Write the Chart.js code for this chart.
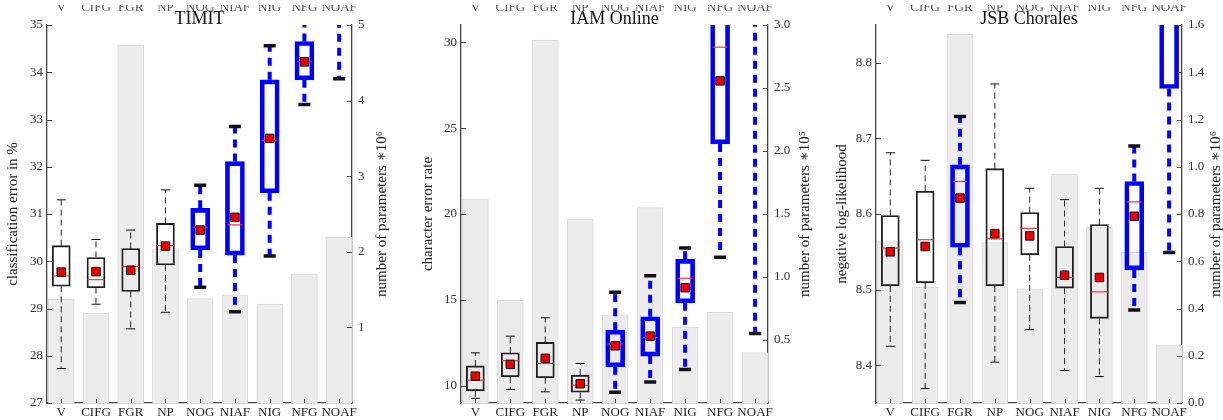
<!DOCTYPE html>
<html>
<head>
<meta charset="utf-8">
<script src="https://cdn.jsdelivr.net/npm/chart.js@4.4.1/dist/chart.umd.min.js"></script>
<style>
  html, body { margin: 0; padding: 0; background: #fff; }
  #wrap { position: relative; width: 1223px; height: 420px; overflow: hidden; }
  canvas { position: absolute; top: 0; }
</style>
</head>
<body>
<div id="wrap">
  <canvas id="timit" width="405" height="420" style="left:0"></canvas>
  <canvas id="iam" width="410" height="420" style="left:405px"></canvas>
  <canvas id="jsb" width="408" height="420" style="left:815px"></canvas>
</div>
<script>
// LSTM variants on the x axis
const categories = ["V", "CIFG", "FGR", "NP", "NOG", "NIAF", "NIG", "NFG", "NOAF"];

// TIMIT: classification error in %, params * 10^6
const timitMin    = [27.73, 29.09, 28.57, 28.92, 29.45, 28.93, 30.11, 33.32, 33.86];
const timitQ1     = [29.47, 29.44, 29.36, 29.92, 30.24, 30.13, 31.45, 33.84, 36.0];
const timitMedian = [29.69, 29.61, 29.89, 30.33, 30.72, 30.77, 32.55, 34.22, 37.0];
const timitMean   = [29.77, 29.78, 29.81, 30.32, 30.66, 30.93, 32.60, 34.22, 37.2];
const timitQ3     = [30.33, 30.08, 30.27, 30.80, 31.12, 32.11, 33.84, 34.65, 38.0];
const timitMax    = [31.30, 30.46, 30.66, 31.51, 31.61, 32.85, 34.56, 35.40, 39.0];
const timitParams = [1.37, 1.19, 4.73, 2.04, 1.38, 1.43, 1.31, 1.71, 2.19];
const timitBlue   = [0, 0, 0, 0, 1, 1, 1, 1, 1];
const timitTicks  = [27, 28, 29, 30, 31, 32, 33, 34, 35];
const timitParamTicks = [1, 2, 3, 4, 5];

// IAM Online: character error rate, params * 10^5
const iamMin    = [9.27, 9.79, 9.65, 9.17, 9.63, 10.22, 10.95, 17.48, 13.05];
const iamQ1     = [9.71, 10.52, 10.47, 9.63, 11.11, 11.73, 14.83, 24.08, 33.0];
const iamMedian = [10.33, 11.46, 11.30, 10.04, 12.43, 12.82, 16.26, 29.71, 35.0];
const iamMean   = [10.56, 11.25, 11.60, 10.12, 12.33, 12.89, 15.71, 27.75, 35.0];
const iamQ3     = [11.16, 11.92, 12.53, 10.62, 13.24, 14.02, 17.36, 32.5, 38.0];
const iamMax    = [11.92, 12.89, 13.96, 11.30, 15.44, 16.41, 18.02, 36.0, 42.0];
const iamParams = [1.62, 0.815, 2.88, 1.46, 0.70, 1.55, 0.60, 0.72, 0.40];
const iamBlue   = [0, 0, 0, 0, 1, 1, 1, 1, 1];
const iamTicks  = [10, 15, 20, 25, 30];
const iamParamTicks = [0.5, 1.0, 1.5, 2.0, 2.5, 3.0];

// JSB Chorales: negative log-likelihood, params * 10^6
const jsbMin    = [8.425, 8.369, 8.483, 8.404, 8.447, 8.393, 8.385, 8.473, 8.549];
const jsbQ1     = [8.505, 8.509, 8.556, 8.505, 8.546, 8.502, 8.462, 8.526, 8.766];
const jsbMedian = [8.555, 8.566, 8.643, 8.567, 8.581, 8.516, 8.497, 8.616, 8.95];
const jsbMean   = [8.550, 8.557, 8.621, 8.574, 8.571, 8.519, 8.516, 8.597, 8.95];
const jsbQ3     = [8.598, 8.630, 8.665, 8.660, 8.602, 8.557, 8.586, 8.643, 9.1];
const jsbMax    = [8.681, 8.671, 8.729, 8.772, 8.634, 8.619, 8.634, 8.690, 9.2];
const jsbParams = [0.683, 0.490, 1.561, 0.679, 0.483, 0.969, 0.744, 0.638, 0.246];
const jsbBlue   = [0, 0, 1, 0, 0, 0, 0, 1, 1];
const jsbTicks  = [8.4, 8.5, 8.6, 8.7, 8.8];
const jsbParamTicks = [0, 0.2, 0.4, 0.6, 0.8, 1.0, 1.2, 1.4, 1.6];

const serif = "'Liberation Serif', 'DejaVu Serif', serif";

const panels = {
  timit: {
    title: "TIMIT", yLabel: "classification error in %", rLabel: "number of parameters \u221710\u2076",
    min: timitMin, q1: timitQ1, median: timitMedian, mean: timitMean, q3: timitQ3, max: timitMax,
    params: timitParams, blue: timitBlue, yTicks: timitTicks, rTicks: timitParamTicks,
    yMin: 27, yMax: 35, rMax: 5, fmt: (v) => String(v), rFmt: (v) => String(v),
    left: 47, right: 53, yTitlePad: 4, rTitleX: 382
  },
  iam: {
    title: "IAM Online", yLabel: "character error rate", rLabel: "number of parameters \u221710\u2075",
    min: iamMin, q1: iamQ1, median: iamMedian, mean: iamMean, q3: iamQ3, max: iamMax,
    params: iamParams, blue: iamBlue, yTicks: iamTicks, rTicks: iamParamTicks,
    yMin: 9, yMax: 31, rMax: 3, fmt: (v) => String(v), rFmt: (v) => v.toFixed(1),
    left: 56, right: 47, yTitlePad: 14, rTitleX: 400
  },
  jsb: {
    title: "JSB Chorales", yLabel: "negative log-likelihood", rLabel: "number of parameters \u221710\u2076",
    min: jsbMin, q1: jsbQ1, median: jsbMedian, mean: jsbMean, q3: jsbQ3, max: jsbMax,
    params: jsbParams, blue: jsbBlue, yTicks: jsbTicks, rTicks: jsbParamTicks,
    yMin: 8.35, yMax: 8.85, rMax: 1.6, fmt: (v) => v.toFixed(1), rFmt: (v) => v.toFixed(1),
    left: 61, right: 41, yTitlePad: 18, rTitleX: 401
  }
};

// whiskers, caps, medians, inner ticks and extra texts
const boxDecor = {
  id: "boxDecor",
  afterDatasetDraw(chart, args) {
    if (args.index !== 2) return;
    const p = panels[chart.canvas.id];
    const { ctx, chartArea: a, scales: { x, y } } = chart;
    ctx.save();
    ctx.beginPath();
    ctx.rect(a.left, a.top, a.right - a.left, a.bottom - a.top);
    ctx.clip();
    categories.forEach((c, i) => {
      const px = x.getPixelForValue(i + 1);
      const blue = p.blue[i] === 1;
      const yQ1 = y.getPixelForValue(p.q1[i]);
      const yQ3 = y.getPixelForValue(p.q3[i]);
      const yLo = y.getPixelForValue(p.min[i]);
      const yHi = y.getPixelForValue(p.max[i]);

      ctx.setLineDash(blue ? [8, 6] : [6, 4]);
      ctx.strokeStyle = blue ? "#0000ff" : "#222";
      ctx.lineWidth = blue ? 4 : 1;
      ctx.beginPath();
      ctx.moveTo(px, yQ3); ctx.lineTo(px, yHi);
      ctx.moveTo(px, yQ1); ctx.lineTo(px, yLo);
      ctx.stroke();

      ctx.setLineDash([]);
      ctx.strokeStyle = "#111";
      ctx.lineWidth = blue ? 3.5 : 1;
      const cw = blue ? 6 : 4.5;
      ctx.beginPath();
      ctx.moveTo(px - cw, yHi); ctx.lineTo(px + cw, yHi);
      ctx.moveTo(px - cw, yLo); ctx.lineTo(px + cw, yLo);
      ctx.stroke();

      const ym = y.getPixelForValue(p.median[i]);
      const mw = blue ? 7.5 : 8.3;
      ctx.strokeStyle = "#ff3030";
      ctx.lineWidth = 1.2;
      ctx.beginPath();
      ctx.moveTo(px - mw, ym); ctx.lineTo(px + mw, ym);
      ctx.stroke();
    });
    ctx.restore();
  },
  afterDraw(chart) {
    const p = panels[chart.canvas.id];
    const { ctx, chartArea: a, scales: { x, y, y2 } } = chart;
    ctx.save();
    ctx.strokeStyle = "#444";
    ctx.lineWidth = 1;
    ctx.beginPath();
    y.ticks.forEach((t) => {
      const py = Math.round(y.getPixelForValue(t.value)) + 0.5;
      ctx.moveTo(a.left, py); ctx.lineTo(a.left + 5, py);
    });
    y2.ticks.forEach((t) => {
      const py = Math.round(y2.getPixelForValue(t.value)) + 0.5;
      ctx.moveTo(a.right, py); ctx.lineTo(a.right - 5, py);
    });
    x.ticks.forEach((t) => {
      const px = Math.round(x.getPixelForValue(t.value)) + 0.5;
      ctx.moveTo(px, a.bottom); ctx.lineTo(px, a.bottom - 4);
    });
    ctx.stroke();

    // right axis title, reading upwards
    ctx.fillStyle = "#222";
    ctx.font = "15px " + serif;
    ctx.textAlign = "center";
    ctx.textBaseline = "middle";
    ctx.translate(p.rTitleX, (a.top + a.bottom) / 2);
    ctx.rotate(-Math.PI / 2);
    ctx.fillText(p.rLabel, 0, 0);
    ctx.restore();

    // labels of the row above, cut at the top edge
    ctx.save();
    ctx.beginPath();
    ctx.rect(0, 5, chart.width, 8);
    ctx.clip();
    ctx.fillStyle = "#555";
    ctx.font = "13px " + serif;
    ctx.textAlign = "center";
    ctx.textBaseline = "alphabetic";
    categories.forEach((c, i) => ctx.fillText(c, x.getPixelForValue(i + 1), 10.5));
    ctx.restore();
  }
};

function drawPanel(id) {
  const p = panels[id];
  const boxData = (flag) => categories
    .map((c, i) => ({ x: i + 1, y: [p.q1[i], p.q3[i]], b: p.blue[i] }))
    .filter((d) => d.b === flag);
  const axisBorder = { display: true, color: "#444", width: 1.3 };
  const tickFont = { family: serif, size: 13 };

  new Chart(document.getElementById(id), {
    type: "bar",
    data: {
      datasets: [
        {
          data: categories.map((c, i) => ({ x: i + 1, y: p.params[i] })),
          yAxisID: "y2", backgroundColor: "#ececec", borderColor: "#dadada", borderWidth: 1,
          barThickness: 26, grouped: false, order: 4
        },
        {
          data: boxData(0), yAxisID: "y", backgroundColor: "rgba(0,0,0,0)", borderColor: "#1e1e1e",
          borderWidth: 1.2, borderSkipped: false, barThickness: 18, grouped: false, order: 3
        },
        {
          data: boxData(1), yAxisID: "y", backgroundColor: "rgba(0,0,0,0)", borderColor: "#0000ff",
          borderWidth: 4, borderSkipped: false, barThickness: 19, grouped: false, order: 2
        },
        {
          type: "scatter",
          data: categories.map((c, i) => ({ x: i + 1, y: p.mean[i] })),
          yAxisID: "y", pointStyle: "rect", radius: 6, backgroundColor: "#ee0000",
          borderColor: "#111", borderWidth: 1, order: 1
        }
      ]
    },
    options: {
      responsive: false,
      animation: false,
      events: [],
      layout: { padding: 0 },
      plugins: {
        legend: { display: false },
        tooltip: { enabled: false },
        title: {
          display: true, text: p.title, fullSize: false, color: "#111",
          font: { family: serif, size: 18, weight: "normal", lineHeight: 1 },
          padding: { top: 10, bottom: -3 }
        }
      },
      scales: {
        x: {
          type: "linear", min: 0.59, max: 9.37, offset: false,
          grid: { display: false, drawTicks: false },
          border: axisBorder,
          ticks: { font: tickFont, color: "#222", padding: 2, autoSkip: false, maxRotation: 0,
                   callback: (v) => categories[v - 1] },
          afterBuildTicks: (s) => { s.ticks = categories.map((c, i) => ({ value: i + 1 })); },
          afterFit: (s) => { s.height = 17; }
        },
        y: {
          type: "linear", position: "left", min: p.yMin, max: p.yMax,
          grid: { display: false, drawTicks: false },
          border: axisBorder,
          ticks: { font: tickFont, color: "#333", padding: 4, callback: (v) => p.fmt(v) },
          afterBuildTicks: (s) => { s.ticks = p.yTicks.map((v) => ({ value: v })); },
          title: { display: true, text: p.yLabel, color: "#222",
                   font: { family: serif, size: 15 }, padding: { top: p.yTitlePad, bottom: 0 } },
          afterFit: (s) => { s.width = p.left; }
        },
        y2: {
          type: "linear", position: "right", min: 0, max: p.rMax,
          grid: { display: false, drawTicks: false },
          border: axisBorder,
          ticks: { font: tickFont, color: "#333", padding: 6, callback: (v) => p.rFmt(v) },
          afterBuildTicks: (s) => { s.ticks = p.rTicks.map((v) => ({ value: v })); },
          afterFit: (s) => { s.width = p.right; }
        }
      }
    },
    plugins: [boxDecor]
  });
}

drawPanel("timit");
drawPanel("iam");
drawPanel("jsb");
</script>
</body>
</html>
